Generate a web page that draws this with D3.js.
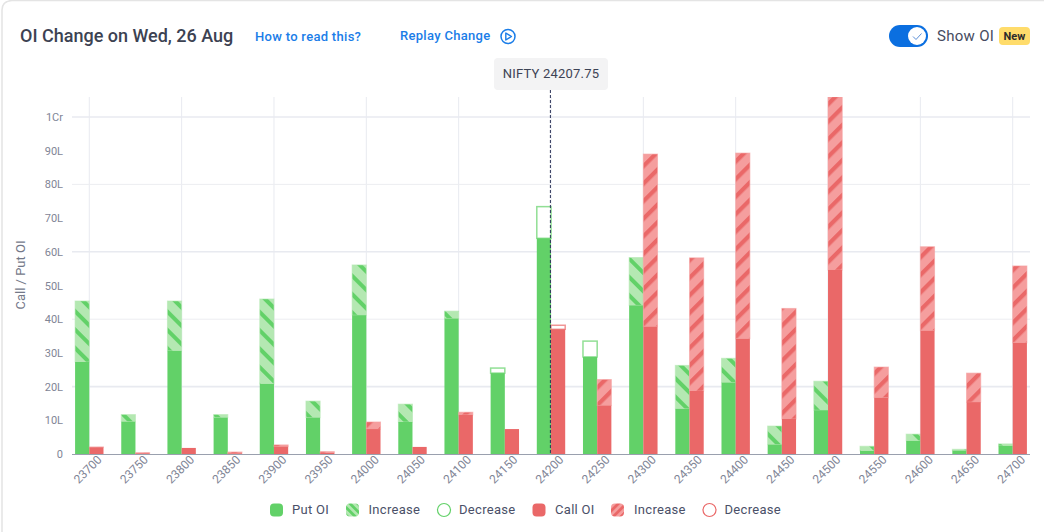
<!DOCTYPE html>
<html><head><meta charset="utf-8">
<script src="https://cdn.jsdelivr.net/npm/d3@7"></script>
<style>
html,body{margin:0;padding:0;background:#fff;overflow:hidden}
svg{display:block;font-family:Roboto,sans-serif}
</style></head><body><svg id="c" width="1044" height="532"></svg>
<script>
const strikes=[23700,23750,23800,23850,23900,23950,24000,24050,24100,24150,24200,24250,24300,24350,24400,24450,24500,24550,24600,24650,24700];
const putBase=[27.3,9.6,30.6,10.8,20.8,10.8,41.2,9.5,40.2,24,64,28.8,44.1,13.4,21.2,2.8,13,0.9,3.9,1,2.4];
const putTop=[45.4,11.7,45.4,11.7,46,15.7,56.1,14.8,42.4,25.5,73.4,33.5,58.3,26.3,28.4,8.3,21.6,2.3,5.9,1.4,3];
const putChange=["i","i","i","i","i","i","i","i","i","d","d","d","i","i","i","i","i","i","i","i","i"];
const callBase=[2,0.2,1.8,0.2,2.2,0.3,7.4,2.1,11.6,7.4,37,14.4,37.8,18.7,34.2,10.4,54.6,16.7,36.6,15.4,33];
const callTop=[2.1,0.4,1.8,0.6,2.7,0.7,9.5,2.1,12.4,7.4,38.2,22.1,89,58.2,89.3,43.2,106,25.8,61.5,24,55.8];
const callChange=["i","i","i","i","i","i","i","i","i","i","d","i","i","i","i","i","i","i","i","i","i"];
const yTicks=[0,10,20,30,40,50,60,70,80,90,100];
const yMajor=[20,60,100];
const yMinor=[40,80];
const legendLabels=["Put OI","Increase","Decrease","Call OI","Increase","Decrease"];
const spot=24207.75;

const GREEN="#62d168",GREENL="#b4e8b2",RED="#ea6868",REDL="#f59e9e";
const svg=d3.select("#c");
const defs=svg.append("defs");
function stripe(id,bg,fg,angle,period,w){
  const p=defs.append("pattern").attr("id",id).attr("patternUnits","userSpaceOnUse")
    .attr("width",period).attr("height",period).attr("patternTransform",`rotate(${angle})`);
  p.append("rect").attr("width",period).attr("height",period).attr("fill",bg);
  p.append("rect").attr("width",w).attr("height",period).attr("fill",fg);
}
stripe("pg",GREENL,GREEN,-45,13,4);
stripe("pr",REDL,RED,45,12.4,4.2);
stripe("lg",GREENL,GREEN,-45,5.5,2.8);
stripe("lr",REDL,RED,45,5.5,2.8);
defs.append("clipPath").attr("id","plot").append("rect").attr("x",60).attr("y",97).attr("width",984).attr("height",360);

// card
svg.append("path").attr("d","M2,532V10Q2,1 12,0.5H1044").attr("fill","none").attr("stroke","#e4e4e4").attr("stroke-width",1.5);

const x=d3.scaleBand().domain(strikes).range([66.2,1035.8]).padding(0);
const y=d3.scaleLinear().domain([0,100]).range([454,117]);
const bw=14.2;
const cx=s=>x(s)+x.bandwidth()/2;

// grid
const G=svg.append("g");
G.selectAll(".gv").data(strikes.filter((d,i)=>i%2==0)).join("line")
 .attr("x1",d=>cx(d)).attr("x2",d=>cx(d)).attr("y1",97).attr("y2",454).attr("stroke","#e8eaf0").attr("stroke-width",1);
G.selectAll(".gM").data(yMajor).join("line").attr("x1",72).attr("x2",1030).attr("y1",d=>y(d)).attr("y2",d=>y(d)).attr("stroke","#e8eaf0").attr("stroke-width",1.6);
G.selectAll(".gm").data(yMinor).join("line").attr("x1",72).attr("x2",1030).attr("y1",d=>y(d)).attr("y2",d=>y(d)).attr("stroke","#ecedf1").attr("stroke-width",1);

// axes
const ax=svg.append("g").attr("transform","translate(0,454)").call(d3.axisBottom(x).tickSize(0).tickPadding(9));
ax.select(".domain").attr("d","M72,0.5H1030").attr("stroke","#9aa0ae").attr("stroke-width",1.2);
ax.selectAll("text").attr("font-family","Roboto").attr("font-size",12).attr("fill","#7f8596")
  .attr("text-anchor","end").attr("dy",0).attr("transform","translate(7,0) rotate(-45)");
const ay=svg.append("g").attr("transform","translate(63,0)").call(d3.axisLeft(y).tickValues(yTicks).tickSize(0).tickPadding(0)
  .tickFormat(d=>d==0?"0":d==100?"1Cr":d+"L"));
ay.select(".domain").remove();
ay.selectAll("text").attr("font-family","Roboto").attr("font-size",11).attr("fill","#7f8596");
svg.append("text").attr("transform","translate(24.5,275) rotate(-90)").attr("text-anchor","middle").attr("font-size",13).attr("fill","#737888").text("Call / Put OI");

// bars
const bars=svg.append("g").attr("clip-path","url(#plot)");
function series(base,top,ch,off,col,light,pat){
  const g=bars.append("g");
  g.selectAll(".top").data(strikes).join("rect")
   .attr("x",d=>cx(d)+off).attr("width",bw)
   .attr("y",(d,i)=>y(top[i])).attr("height",(d,i)=>Math.max(0,y(base[i])-y(top[i])))
   .attr("fill",(d,i)=>ch[i]=="i"?`url(#${pat})`:"#fff")
   .attr("stroke",(d,i)=>ch[i]=="i"?light:col).attr("stroke-opacity",(d,i)=>ch[i]=="i"?0.6:0.7).attr("stroke-width",(d,i)=>ch[i]=="i"?1:1.5);
  g.selectAll(".base").data(strikes).join("rect")
   .attr("x",d=>cx(d)+off).attr("width",bw)
   .attr("y",(d,i)=>y(base[i])).attr("height",(d,i)=>y(0)-y(base[i])).attr("fill",col);
}
series(putBase,putTop,putChange,-bw,GREEN,GREENL,"pg");
series(callBase,callTop,callChange,0,RED,REDL,"pr");

// spot marker sits on the nearest strike
const spotX=cx(Math.round(spot/50)*50)-0.6;
svg.append("line").attr("x1",spotX).attr("x2",spotX).attr("y1",90).attr("y2",454).attr("stroke","#2b3358").attr("stroke-width",1).attr("stroke-dasharray","3,2");
svg.append("rect").attr("x",494).attr("y",58).attr("width",114).attr("height",32).attr("rx",4).attr("fill","#f3f3f4");
svg.append("text").attr("x",551).attr("y",78).attr("text-anchor","middle").attr("font-size",13).attr("letter-spacing",0.2).attr("fill","#3d4355").text("NIFTY "+spot);

// header
svg.append("text").attr("x",20).attr("y",42).attr("font-size",18).attr("font-weight",500).attr("fill","#3c4252").text("OI Change on Wed, 26 Aug");
svg.append("text").attr("x",255).attr("y",41).attr("font-size",13).attr("letter-spacing",0.3).attr("font-weight",500).attr("fill","#1a7de8").text("How to read this?");
svg.append("text").attr("x",400).attr("y",40).attr("font-size",13).attr("letter-spacing",0.3).attr("font-weight",500).attr("fill","#1a7de8").text("Replay Change");
svg.append("circle").attr("cx",508).attr("cy",36.5).attr("r",7).attr("fill","none").attr("stroke","#1a7de8").attr("stroke-width",1.5);
svg.append("path").attr("d","M505.8,33V40L511.5,36.5Z").attr("fill","none").attr("stroke","#1a7de8").attr("stroke-width",1.4).attr("stroke-linejoin","round");

// toggle
svg.append("rect").attr("x",889).attr("y",25).attr("width",39).attr("height",22).attr("rx",11).attr("fill","#0b6fe0");
svg.append("circle").attr("cx",917).attr("cy",36).attr("r",9).attr("fill","#fff");
svg.append("path").attr("d","M913,36.5L916,39.5L921.5,33.5").attr("fill","none").attr("stroke","#5b8fd8").attr("stroke-width",1);
svg.append("text").attr("x",937).attr("y",41).attr("font-size",15).attr("letter-spacing",0.3).attr("fill","#454b60").text("Show OI");
svg.append("rect").attr("x",999).attr("y",27).attr("width",31).attr("height",18).attr("rx",4).attr("fill","#ffdc6b");
svg.append("text").attr("x",1014.5).attr("y",40).attr("text-anchor","middle").attr("font-size",11).attr("font-weight",700).attr("fill","#2b2b2b").text("New");

// legend
const L=svg.append("g");
const fills=[GREEN,"url(#lg)","#fff",RED,"url(#lr)","#fff"], st=[null,null,GREEN,null,null,RED];
const swatchX=[270,346,437.5,532.5,611,703], textX=[292,368.5,459,555,634,724.5];
legendLabels.forEach((t,i)=>{
  L.append("rect").attr("x",swatchX[i]).attr("y",503.5).attr("width",13).attr("height",13)
   .attr("rx",i==2||i==5?6.5:4).attr("fill",fills[i]).attr("stroke",st[i]||"none").attr("stroke-width",1.2);
  L.append("text").attr("x",textX[i]).attr("y",514).attr("font-size",13).attr("letter-spacing",0.3).attr("fill","#4a5068").text(t);
});
</script></body></html>
